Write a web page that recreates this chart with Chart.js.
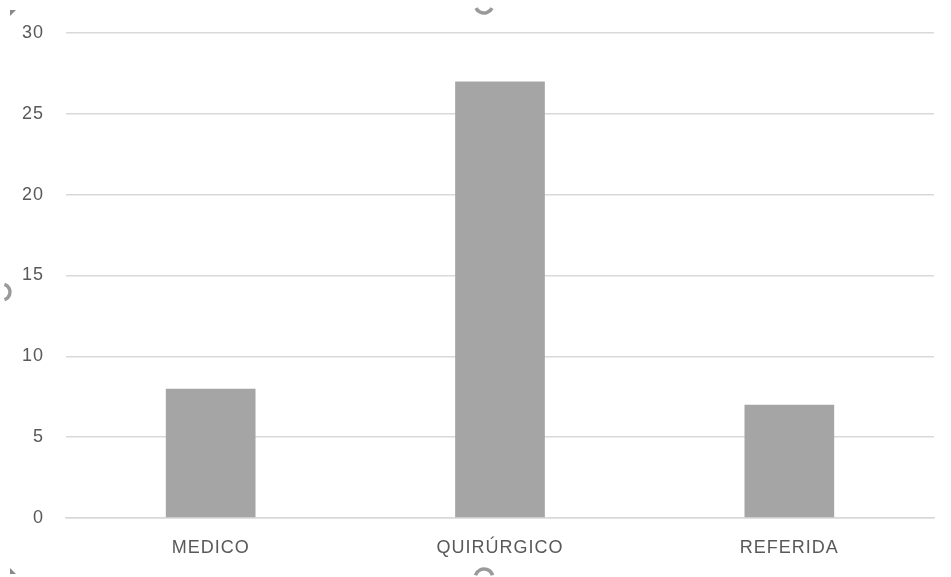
<!DOCTYPE html>
<html>
<head>
<meta charset="utf-8">
<style>
  html, body { margin: 0; padding: 0; background: #ffffff; }
  #wrap { width: 951px; height: 577px; position: relative; }
</style>
<script src="https://cdn.jsdelivr.net/npm/chart.js@4/dist/chart.umd.min.js"></script>
</head>
<body>
<div id="wrap"><canvas id="chart" width="951" height="577"></canvas></div>
<script>
// Categories and counts
const categories = ['MEDICO', 'QUIRÚRGICO', 'REFERIDA'];
const counts = [8, 27, 7];
// Value axis ticks
const yTicks = [0, 5, 10, 15, 20, 25, 30];

const textColor = '#595959';
const gridColor = '#d9d9d9';
const barColor = '#a5a5a5';

// Small handle marks around the chart frame
const handlesPlugin = {
  id: 'handles',
  beforeDraw(chart) {
    chart.ctx.letterSpacing = '1px';
  },
  afterDraw(chart) {
    const ctx = chart.ctx;
    ctx.save();
    ctx.strokeStyle = '#9a9a9a';
    ctx.lineWidth = 3.5;
    ctx.beginPath(); ctx.arc(484, 4, 9, 0.15 * Math.PI, 0.85 * Math.PI); ctx.stroke();
    ctx.beginPath(); ctx.arc(484, 578, 9, 1.1 * Math.PI, 1.9 * Math.PI); ctx.stroke();
    ctx.beginPath(); ctx.arc(2, 292, 8, -0.4 * Math.PI, 0.4 * Math.PI); ctx.stroke();
    ctx.fillStyle = '#8a8a8a';
    ctx.beginPath(); ctx.moveTo(10, 10); ctx.lineTo(16, 10); ctx.lineTo(10, 16); ctx.closePath(); ctx.fill();
    ctx.beginPath(); ctx.moveTo(10, 568); ctx.lineTo(16, 574); ctx.lineTo(10, 574); ctx.closePath(); ctx.fill();
    ctx.restore();
  }
};

new Chart(document.getElementById('chart'), {
  type: 'bar',
  data: {
    labels: categories,
    datasets: [{
      data: counts,
      backgroundColor: barColor,
      borderWidth: 0,
      categoryPercentage: 1,
      barPercentage: 0.31
    }]
  },
  options: {
    responsive: false,
    animation: false,
    devicePixelRatio: 1,
    layout: { padding: { left: 0, right: 17, top: 33, bottom: 0 } },
    plugins: { legend: { display: false }, tooltip: { enabled: false } },
    scales: {
      x: {
        grid: { display: false, drawTicks: false },
        border: { display: true, color: gridColor, width: 1.5 },
        ticks: {
          color: textColor,
          font: { family: 'Liberation Sans', size: 18 },
          padding: 19,
          maxRotation: 0
        },
        afterFit(scale) { scale.height = 59; }
      },
      y: {
        min: 0,
        max: 30,
        afterBuildTicks(scale) { scale.ticks = yTicks.map(v => ({ value: v })); },
        grid: { color: gridColor, lineWidth: 1.5, drawTicks: false },
        border: { display: false },
        ticks: {
          color: textColor,
          font: { family: 'Liberation Sans', size: 18 },
          padding: 22
        },
        afterFit(scale) { scale.width = 66; }
      }
    }
  },
  plugins: [handlesPlugin]
});
</script>
</body>
</html>
